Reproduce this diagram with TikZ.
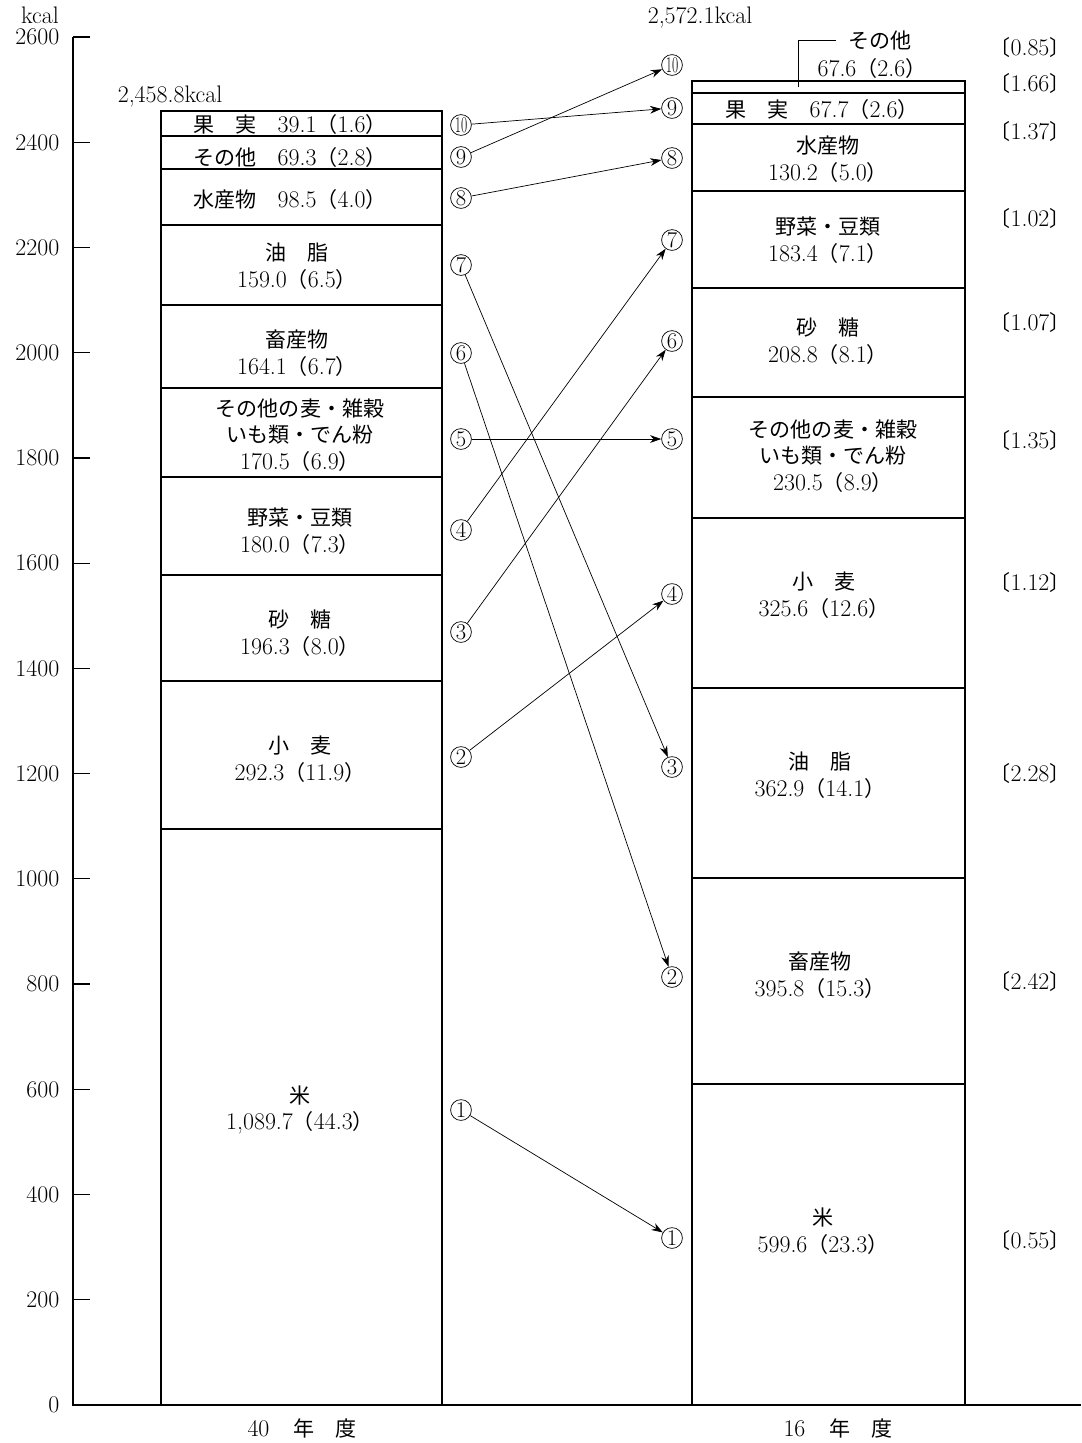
\documentclass[tikz,border=0pt]{standalone}
\usepackage{fontspec}
\newfontfamily\jp{Noto Sans CJK JP}[Scale=0.88]
\usetikzlibrary{arrows.meta}
\newcommand\kakko[1]{{\jp（}#1{\jp）}}
\newcommand\kikko[1]{{\jp〔}#1{\jp〕}}

\begin{document}
\begin{tikzpicture}[x=0.025cm,y=-0.025cm,
  num/.style={circle,draw,line width=0.5pt,inner sep=0pt,minimum size=0.52cm,font=\fontsize{16}{16}\selectfont},
  lab/.style={align=center,inner sep=1pt,font=\fontsize{17}{19}\selectfont},
  lnk/.style={-{Stealth[length=8pt,width=5.5pt]},line width=0.5pt},
  bar/.style={line width=0.9pt}]
\useasboundingbox (0,0) rectangle (1081,1443);
\draw[bar] (73,37) -- (73,1405) -- (1081,1405);
\foreach \v [count=\i from 0] in {0,200,...,2600} {\draw[bar] (73,1405-\i*105.23) -- (90,1405-\i*105.23); \node[lab,anchor=east] (t\v) at (61,1405-\i*105.23) {\v};}
\node[lab] (unit) at (40,15) {kcal};

\draw[bar] (161,111) rectangle (442,1405); \foreach \y in {136,169,225,305,388,477,575,681,829} \draw[bar] (161,\y) -- (442,\y);
\draw[bar] (692,81) rectangle (965,1405); \foreach \y in {93,124,191,288,397,518,688,878,1084} \draw[bar] (692,\y) -- (965,\y);
\node[lab] (ltot) at (170,97) {2,458.8kcal}; \node[lab] (rtot) at (700,18) {2,572.1kcal};

\node[lab] (lfru) at (290,124) {{\jp 果　実　}39.1\kakko{1.6}};
\node[lab] (loth) at (290,157) {{\jp その他　}69.3\kakko{2.8}};
\node[lab] (lfis) at (290,199) {{\jp 水産物　}98.5\kakko{4.0}};
\node[lab] (loil) at (297,266) {{\jp 油　脂}\\159.0\kakko{6.5}};
\node[lab] (lmea) at (297,353) {{\jp 畜産物}\\164.1\kakko{6.7}};
\node[lab] (lgra) at (300,435) {{\jp その他の麦・雑穀}\\{\jp いも類・でん粉}\\170.5\kakko{6.9}};
\node[lab] (lveg) at (300,531) {{\jp 野菜・豆類}\\180.0\kakko{7.3}};
\node[lab] (lsug) at (300,633) {{\jp 砂　糖}\\196.3\kakko{8.0}};
\node[lab] (lwhe) at (300,759) {{\jp 小　麦}\\292.3\kakko{11.9}};
\node[lab] (lric) at (300,1110) {{\jp 米}\\1,089.7\kakko{44.3}};

\node[lab] (roth) at (880,40) {\jp その他}; \node[lab] (rotv) at (872,68) {67.6\kakko{2.6}};
\coordinate (rtop) at (798,87); \draw (rtop) |- ([xshift=-8pt]roth.west);
\node[lab] (rfru) at (822,109) {{\jp 果　実　}67.7\kakko{2.6}};
\node[lab] (rfis) at (828,159) {{\jp 水産物}\\130.2\kakko{5.0}};
\node[lab] (rveg) at (828,240) {{\jp 野菜・豆類}\\183.4\kakko{7.1}};
\node[lab] (rsug) at (828,341) {{\jp 砂　糖}\\208.8\kakko{8.1}};
\node[lab] (rgra) at (833,456) {{\jp その他の麦・雑穀}\\{\jp いも類・でん粉}\\230.5\kakko{8.9}};
\node[lab] (rwhe) at (824,595) {{\jp 小　麦}\\325.6\kakko{12.6}};
\node[lab] (roil) at (820,775) {{\jp 油　脂}\\362.9\kakko{14.1}};
\node[lab] (rmea) at (820,975) {{\jp 畜産物}\\395.8\kakko{15.3}};
\node[lab] (rric) at (823,1231) {{\jp 米}\\599.6\kakko{23.3}};

\foreach \y/\r [count=\i] in {47/0.85,83/1.66,131/1.37,218/1.02,322/1.07,440/1.35,582/1.12,773/2.28,981/2.42,1240/0.55} \node[lab] (q\i) at (1030,\y) {\kikko{\r}};

\foreach \n/\y in {10/125,9/157,8/198,7/265,6/353,5/439,4/530,3/632,2/757,1/1110} \node[num] (L\n) at (461,\y) {\ifnum\n>9 \scalebox{0.6}[1]{\n}\else\n\fi};
\foreach \n/\y in {10/65,9/108,8/158,7/240,6/341,5/439,4/594,3/767,2/977,1/1238} \node[num] (R\n) at (672,\y) {\ifnum\n>9 \scalebox{0.6}[1]{\n}\else\n\fi};
\foreach \a/\b in {10/9,9/10,8/8,7/3,6/2,5/5,4/7,3/6,2/4,1/1} \draw[lnk] (L\a) -- (R\b);

\node[lab] (lyr) at (302,1428) {40\quad{\jp 年　度}}; \node[lab] (ryr) at (838,1428) {16\quad{\jp 年　度}};
\end{tikzpicture}
\end{document}
